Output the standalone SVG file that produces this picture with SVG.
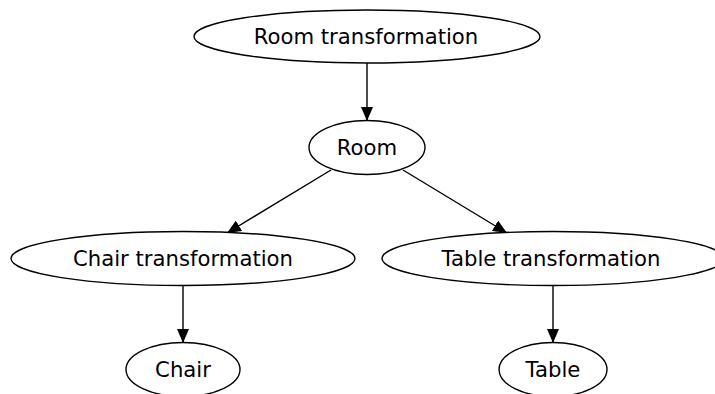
<svg xmlns="http://www.w3.org/2000/svg" width="715" height="394" viewBox="0 0 715 394">
<style>
.n ellipse{fill:#fff;stroke:#000;stroke-width:1.4}
.n text{font-family:"DejaVu Sans",sans-serif;font-size:21.2px;text-anchor:middle;fill:#000}
.e line{stroke:#000;stroke-width:1.4;marker-end:url(#a)}
</style>
<defs>
<marker id="a" markerWidth="14" markerHeight="12" refX="14" refY="6" orient="auto" markerUnits="userSpaceOnUse" viewBox="0 0 14 12">
<path d="M0,0L14,6L0,12Z" fill="#000"/>
</marker>
</defs>
<rect width="715" height="394" fill="#fff"/>
<g class="e">
<line x1="367" y1="63" x2="367" y2="121"/>
<line x1="331" y1="170" x2="227" y2="233"/>
<line x1="403" y1="170" x2="507" y2="233"/>
<line x1="183" y1="286" x2="183" y2="343"/>
<line x1="553" y1="286" x2="553" y2="343"/>
</g>
<g id="room_transformation" class="n"><ellipse cx="367" cy="36.5" rx="173" ry="26.5"/><text x="366" y="43.5">Room transformation</text></g>
<g id="room" class="n"><ellipse cx="367" cy="147.5" rx="58" ry="27"/><text x="367" y="154.5">Room</text></g>
<g id="chair_transformation" class="n"><ellipse cx="183" cy="258.5" rx="172" ry="27"/><text x="183" y="265.5">Chair transformation</text></g>
<g id="table_transformation" class="n"><ellipse cx="553" cy="258.5" rx="171" ry="27"/><text x="551" y="265.5">Table transformation</text></g>
<g id="chair" class="n"><ellipse cx="183" cy="369.5" rx="57" ry="27"/><text x="183" y="376.5">Chair</text></g>
<g id="table" class="n"><ellipse cx="553" cy="369.5" rx="54" ry="27"/><text x="553" y="376.5">Table</text></g>
</svg>
